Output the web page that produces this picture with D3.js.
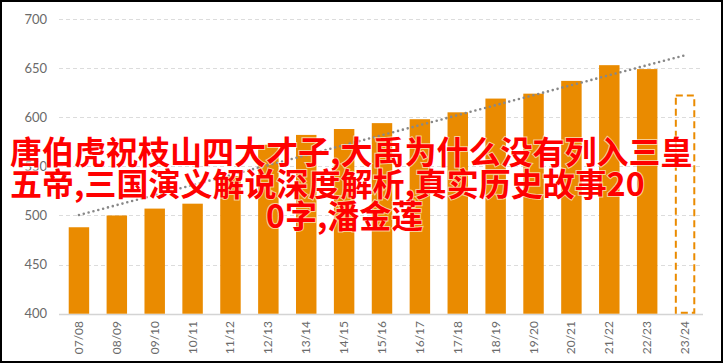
<!DOCTYPE html>
<html>
<head>
<meta charset="utf-8">
<script src="https://cdnjs.cloudflare.com/ajax/libs/d3/7.8.5/d3.min.js"></script>
<style>
  html, body { margin: 0; padding: 0; background: #fff; }
  svg { display: block; }
</style>
</head>
<body>
<div id="chart"></div>
<script>
// seasons and values
const seasons = ['07/08','08/09','09/10','10/11','11/12','12/13','13/14','14/15','15/16',
                 '16/17','17/18','18/19','19/20','20/21','21/22','22/23','23/24']
const values = [488, 500, 507, 512, 540, 572, 582, 588, 594, 598, 605, 619, 624, 637, 653, 649, 622]
const projected = ['23/24']   // dashed outline bar
const yTicks = [400, 450, 500, 550, 600, 650, 700]
const titleLines = [
  '唐伯虎祝枝山四大才子,大禹为什么没有列入三皇',
  '五帝,三国演义解说深度解析,真实历史故事20',
  '0字,潘金莲'
]

const width = 723, height = 363
const svg = d3.select('#chart').append('svg')
    .attr('width', width).attr('height', height)

// frame
svg.append('rect')
    .attr('x', 1).attr('y', 1).attr('width', width - 2).attr('height', height - 2)
    .attr('fill', '#fff').attr('stroke', '#000').attr('stroke-width', 2)

const x = d3.scaleBand().domain(seasons).range([60, 704]).paddingInner(0.46).paddingOuter(0.23)
const y = d3.scaleLinear().domain([400, 700]).range([313.7, 19])

// grid
svg.append('g').selectAll('line')
  .data(yTicks)
  .join('line')
    .attr('x1', 59).attr('x2', 703)
    .attr('y1', d => Math.round(y(d)) + 0.5).attr('y2', d => Math.round(y(d)) + 0.5)
    .attr('stroke', d => d === 400 ? '#d4d4d4' : '#dcdcdc')
    .attr('stroke-width', d => d === 400 ? 1.5 : 1)
    .attr('stroke-dasharray', d => d === 400 ? null : '4 3')

// y labels
svg.append('g').selectAll('text')
  .data(yTicks)
  .join('text')
    .attr('x', 47).attr('y', d => y(d) + 4.5)
    .attr('text-anchor', 'end')
    .attr('font-family', 'Lato, "DejaVu Sans", sans-serif')
    .attr('font-size', 13).attr('fill', '#6a6a6a')
    .text(d => d)

// bars
const data = seasons.map((s, i) => ({ season: s, value: values[i] }))
svg.append('g').selectAll('rect')
  .data(data.filter(d => !projected.includes(d.season)))
  .join('rect')
    .attr('x', d => x(d.season)).attr('width', x.bandwidth())
    .attr('y', d => y(d.value)).attr('height', d => y(400) - y(d.value))
    .attr('fill', '#ea8b00')

svg.append('g').selectAll('rect')
  .data(data.filter(d => projected.includes(d.season)))
  .join('rect')
    .attr('x', d => x(d.season) + 1).attr('width', x.bandwidth() - 2)
    .attr('y', d => y(d.value)).attr('height', d => y(400) - y(d.value) - 1)
    .attr('fill', 'none').attr('stroke', '#ea8b00')
    .attr('stroke-width', 2).attr('stroke-dasharray', '7 4')

// linear trend over all seasons
const idx = d3.range(values.length)
const mx = d3.mean(idx), my = d3.mean(values)
const slope = d3.sum(idx, i => (i - mx) * (values[i] - my)) / d3.sum(idx, i => (i - mx) ** 2)
const trend = [0, values.length - 1].map(i => ({ season: seasons[i], value: my + slope * (i - mx) }))
svg.append('path')
    .datum(trend)
    .attr('d', d3.line().x(d => x(d.season) + x.bandwidth() / 2).y(d => y(d.value)))
    .attr('fill', 'none').attr('stroke', '#888')
    .attr('stroke-width', 2.6).attr('stroke-linecap', 'round')
    .attr('stroke-dasharray', '0 5')

// x labels
svg.append('g').selectAll('text')
  .data(seasons)
  .join('text')
    .attr('transform', d => `translate(${x(d) + x.bandwidth() / 2 + 4},321) rotate(-90)`)
    .attr('text-anchor', 'end')
    .attr('font-family', 'Lato, "DejaVu Sans", sans-serif')
    .attr('font-size', 12).attr('fill', '#6a6a6a')
    .text(d => d)

// overlay title
const tx = [10, 10, 266], ty = [164, 196, 228]
svg.append('g').selectAll('text')
  .data(titleLines)
  .join('text')
    .attr('x', (d, i) => tx[i]).attr('y', (d, i) => ty[i])
    .attr('font-family', '"Noto Sans CJK SC", sans-serif')
    .attr('font-size', 32).attr('font-weight', 700)
    .attr('fill', '#ff0000')
    .attr('stroke', '#fff').attr('stroke-width', 2).attr('stroke-opacity', 0.6)
    .attr('paint-order', 'stroke')
    .text(d => d)
</script>
</body>
</html>
